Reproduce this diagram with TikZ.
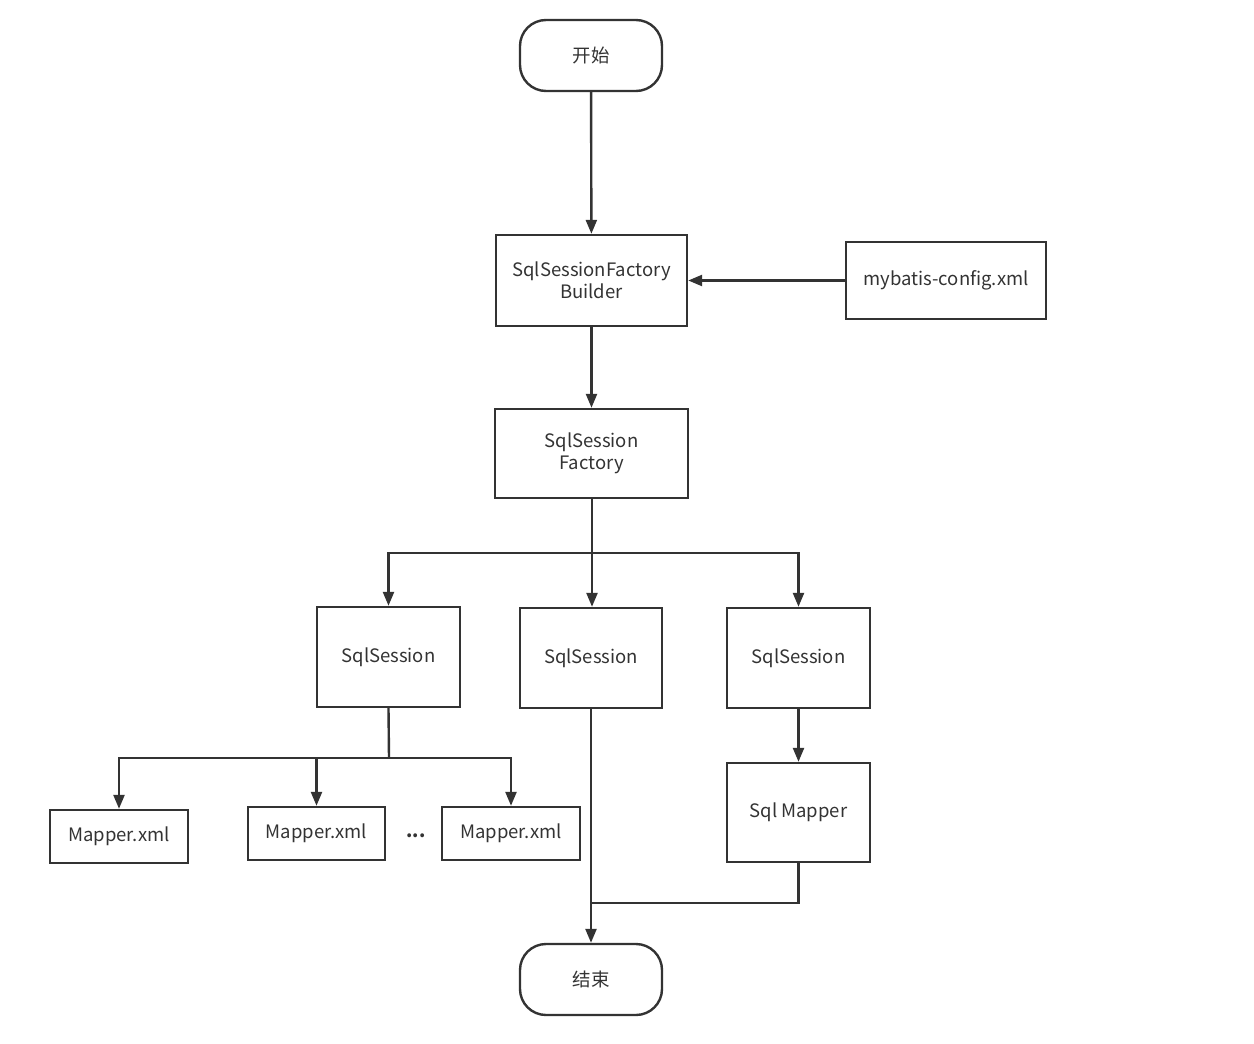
\documentclass[tikz,border=0pt]{standalone}
\usepackage{fontspec}
\setmainfont{Noto Sans CJK SC}
\usetikzlibrary{arrows.meta}
\definecolor{ink}{HTML}{333333}
\tikzset{
  box/.style={draw=ink, line width=2.4pt, text=ink, align=center, inner sep=0pt, font=\fontsize{18.5}{22}\selectfont},
  term/.style={box, rounded corners=26pt},
  conn/.style={draw=ink, line width=2.4pt},
  arr/.style={conn, -{Triangle[length=14pt,width=11pt]}},
}
\begin{document}
\begin{tikzpicture}[x=1pt,y=-1pt]
\useasboundingbox (0,0) rectangle (1254,1044);
\node[term, minimum width=142pt, minimum height=71pt] (start) at (591,55.5) {开始};
\node[box, minimum width=191pt, minimum height=91pt] (builder) at (591.5,280.5) {SqlSessionFactory\\Builder};
\node[box, minimum width=200pt, minimum height=77pt] (config) at (946,280.5) {mybatis-config.xml};
\node[box, minimum width=193pt, minimum height=89pt] (factory) at (591.5,453.5) {SqlSession\\Factory};
\node[box, minimum width=143pt, minimum height=100pt] (ss1) at (388.5,657) {SqlSession};
\node[box, minimum width=142pt, minimum height=100pt] (ss2) at (591,658) {SqlSession};
\node[box, minimum width=143pt, minimum height=100pt] (ss3) at (798.5,658) {SqlSession};
\node[box, minimum width=138pt, minimum height=53pt] (m1) at (119,836.5) {Mapper.xml};
\node[box, minimum width=137pt, minimum height=53pt] (m2) at (316.5,833.5) {Mapper.xml};
\node[box, minimum width=138pt, minimum height=53pt] (m3) at (511,833.5) {Mapper.xml};
\node[text=ink, font=\bfseries\fontsize{18}{20}\selectfont] (dots) at (416,836) {...};
\node[box, minimum width=143pt, minimum height=99pt] (sm) at (798.5,812.5) {Sql Mapper};
\node[term, minimum width=142pt, minimum height=71pt] (end) at (591,979.5) {结束};
\coordinate (j1) at (592,553);
\coordinate (j2) at (389,758);
\coordinate (j3) at (592,903);
\draw[arr] (start) -- (builder);
\draw[arr] (config.west) -- (builder.east);
\draw[arr] (builder) -- (factory);
\draw[conn] (factory.south -| j1) -- (j1);
\draw[arr] (j1) -| (ss1.north);
\draw[arr] (j1) -- (j1 |- ss2.north);
\draw[arr] (j1) -| (ss3.north);
\draw[conn] (ss1.south) -- (j2);
\draw[arr] (j2) -| (m1.north);
\draw[arr] (j2) -| (m2.north);
\draw[arr] (j2) -| (m3.north);
\draw[arr] (ss3) -- (sm);
\draw[conn] (sm.south) |- (j3);
\draw[arr] (ss2.south) -- (end.north);
\end{tikzpicture}
\end{document}
